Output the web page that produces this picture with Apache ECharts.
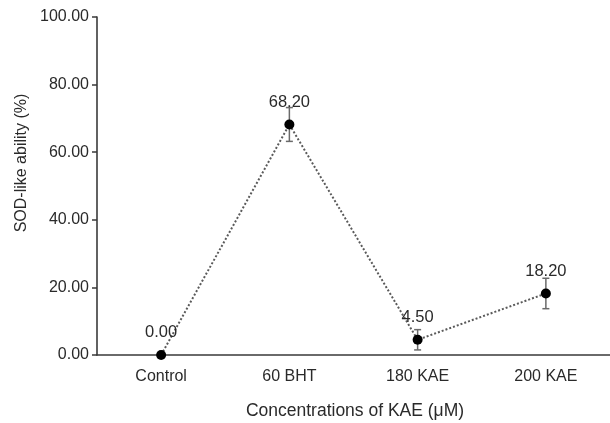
<!DOCTYPE html>
<html>
<head>
<meta charset="utf-8">
<script src="https://cdn.jsdelivr.net/npm/echarts@6/dist/echarts.min.js"></script>
<style>
html,body{margin:0;padding:0;background:#fff;}
#chart{width:610px;height:423px;}
</style>
</head>
<body>
<div id="chart"></div>
<script>
const categories = ['Control', '60 BHT', '180 KAE', '200 KAE'];
const values = [0.00, 68.20, 4.50, 18.20];
const errors = [0, 5, 3, 4.5];
const yTicks = [0, 20, 40, 60, 80, 100];

const chart = echarts.init(document.getElementById('chart'));
const font = 'Liberation Sans, Arial, sans-serif';
const txt = '#2a2a2a';
const errData = values.map((v, i) => [i, v - errors[i], v + errors[i]]);

chart.setOption({
  animation: false,
  grid: {left: 97, top: 17, width: 516, height: 338},
  xAxis: {
    type: 'category',
    data: categories,
    boundaryGap: true,
    axisLine: {lineStyle: {color: '#3a3a3a', width: 1.6}},
    axisTick: {show: false},
    axisLabel: {color: txt, fontSize: 16, fontFamily: font, margin: 14}
  },
  yAxis: {
    type: 'value',
    min: yTicks[0],
    max: yTicks[yTicks.length - 1],
    interval: 20,
    splitLine: {show: false},
    axisLine: {show: true, lineStyle: {color: '#3a3a3a', width: 1.6}},
    axisTick: {show: true, length: 5, lineStyle: {color: '#3a3a3a', width: 1.5}},
    axisLabel: {color: txt, fontSize: 16, fontFamily: font, margin: 8,
      formatter: v => v.toFixed(2)}
  },
  graphic: [
    {type: 'text', x: 22, y: 163, rotation: Math.PI / 2,
      style: {text: 'SOD-like ability (%)', fill: txt, font: '16px ' + font,
        textAlign: 'center', textVerticalAlign: 'middle', x: 0, y: 0}},
    {type: 'text', x: 355, y: 411,
      style: {text: 'Concentrations of KAE (\u03bcM)', fill: txt, font: '17.5px ' + font,
        textAlign: 'center', textVerticalAlign: 'middle', x: 0, y: 0}}
  ],
  series: [
    {
      type: 'line',
      data: values,
      symbol: 'circle',
      symbolSize: 10,
      itemStyle: {color: '#000'},
      lineStyle: {color: '#5a5a5a', width: 2, type: [2, 2]},
      label: {show: true, position: 'top', distance: 9, color: txt, fontSize: 16.5,
        fontFamily: font, formatter: p => p.value.toFixed(2)},
      z: 3
    },
    {
      type: 'custom',
      data: errData,
      z: 2,
      renderItem: function (params, api) {
        const x = api.value(0);
        const lo = api.coord([x, api.value(1)]);
        const hi = api.coord([x, api.value(2)]);
        if (Math.abs(hi[1] - lo[1]) < 0.5) return null;
        const w = 3.5;
        const st = {stroke: '#6a6a6a', lineWidth: 1.5, fill: null};
        return {type: 'group', children: [
          {type: 'line', shape: {x1: lo[0], y1: lo[1], x2: hi[0], y2: hi[1]}, style: st},
          {type: 'line', shape: {x1: lo[0] - w, y1: lo[1], x2: lo[0] + w, y2: lo[1]}, style: st},
          {type: 'line', shape: {x1: hi[0] - w, y1: hi[1], x2: hi[0] + w, y2: hi[1]}, style: st}
        ]};
      }
    }
  ]
});
</script>
</body>
</html>
